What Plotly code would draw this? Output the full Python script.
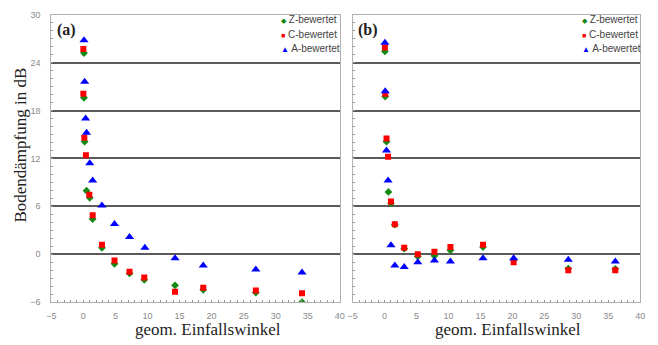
import plotly.graph_objects as go

# ---- data: panel (a) ----
a_z_x = [0.1, 0.1, 0.2, 0.5, 1.0, 1.45, 2.9, 4.86, 7.2, 9.5, 14.3, 18.7, 26.9, 34.1]
a_z_y = [25.2, 19.6, 14.1, 7.95, 7.06, 4.4, 0.8, -1.2, -2.4, -3.2, -3.9, -4.45, -4.8, -6.0]
a_c_x = [0.0, 0.0, 0.15, 0.4, 0.93, 1.45, 2.9, 4.86, 7.2, 9.5, 14.3, 18.7, 26.9, 34.1]
a_c_y = [25.7, 20.1, 14.6, 12.4, 7.46, 4.87, 1.2, -0.8, -2.2, -2.9, -4.7, -4.2, -4.55, -4.9]
a_a_x = [0.1, 0.2, 0.35, 0.5, 1.0, 1.45, 2.9, 4.86, 7.2, 9.6, 14.3, 18.7, 26.9, 34.1]
a_a_y = [26.8, 21.6, 17.0, 15.2, 11.4, 9.25, 6.1, 3.8, 2.15, 0.8, -0.5, -1.4, -1.9, -2.3]

# ---- data: panel (b) ----
b_z_x = [0.05, 0.1, 0.3, 0.6, 1.0, 1.6, 3.07, 5.2, 7.8, 10.3, 15.4, 20.2, 28.75, 36.1]
b_z_y = [25.4, 19.75, 14.1, 7.8, 6.4, 3.7, 0.7, -0.3, -0.2, 0.5, 0.9, -0.7, -1.8, -1.85]
b_c_x = [0.05, 0.1, 0.3, 0.55, 1.0, 1.6, 3.07, 5.2, 7.8, 10.3, 15.4, 20.2, 28.75, 36.1]
b_c_y = [25.9, 20.1, 14.5, 12.2, 6.6, 3.77, 0.8, 0.0, 0.3, 0.9, 1.2, -1.0, -2.0, -2.0]
b_a_x = [0.05, 0.1, 0.3, 0.55, 1.0, 1.6, 3.07, 5.2, 7.8, 10.3, 15.4, 20.2, 28.75, 36.1]
b_a_y = [26.5, 20.4, 13.0, 9.25, 1.13, -1.4, -1.6, -1.0, -0.8, -0.9, -0.5, -0.5, -0.7, -0.9]

series_names = ["Z-bewertet", "C-bewertet", "A-bewertet"]
x_ticks = [-5, 0, 5, 10, 15, 20, 25, 30, 35, 40]
y_ticks = [-6, 0, 6, 12, 18, 24, 30]
panel_labels = ["(a)", "(b)"]
y_title = "Bodendämpfung in dB"
x_title = "geom. Einfallswinkel"

GREEN = "#138a13"
RED = "#ff0000"
BLUE = "#0000ff"
styles = [
    dict(symbol="diamond", size=6, color=GREEN, glyph="◆", gsize=7),
    dict(symbol="square", size=6, color=RED, glyph="■", gsize=7),
    dict(symbol="triangle-up", size=8, color=BLUE, glyph="▲", gsize=8),
]

fig = go.Figure()
panels = [
    ([(a_z_x, a_z_y), (a_c_x, a_c_y), (a_a_x, a_a_y)], "x", "y"),
    ([(b_z_x, b_z_y), (b_c_x, b_c_y), (b_a_x, b_a_y)], "x2", "y2"),
]
for data, xa, ya in panels:
    for (xs, ys), name, st in zip(data, series_names, styles):
        fig.add_trace(go.Scatter(
            x=xs, y=ys, mode="markers", name=name, xaxis=xa, yaxis=ya, showlegend=False,
            marker=dict(symbol=st["symbol"], size=st["size"], color=st["color"], line=dict(width=0)),
        ))

W, H = 658, 345
ydom = [(H - 306) / H, (H - 10) / H]
xdom1 = [47 / W, 340 / W]
xdom2 = [353 / W, 645 / W]

tickfont = dict(family="Arial, Liberation Sans", size=9, color="#8a8a8a")
common_x = dict(range=[-5, 40], tickvals=x_ticks, ticks="inside", ticklen=2, tickcolor="#999",
                showline=True, linecolor="#b0b0b0", linewidth=1, mirror=True, showgrid=False,
                zeroline=False, tickfont=tickfont, ticklabelstandoff=5,
                minor=dict(dtick=1, ticks="inside", ticklen=2, tickcolor="#999", showgrid=False))
common_y = dict(range=[-6, 30], tickvals=y_ticks, ticks="inside", ticklen=2, tickcolor="#999",
                showline=True, linecolor="#b0b0b0", linewidth=1, mirror=True, showgrid=True,
                gridcolor="#5a5a5a", gridwidth=2, zeroline=False, tickfont=tickfont,
                minor=dict(dtick=1, ticks="inside", ticklen=2, tickcolor="#999", showgrid=False))

fig.update_layout(
    width=W, height=H, margin=dict(l=0, r=0, t=0, b=0),
    paper_bgcolor="white", plot_bgcolor="white", showlegend=False,
    xaxis=dict(domain=xdom1, anchor="y", **common_x),
    yaxis=dict(domain=ydom, anchor="x", ticklabelstandoff=8, **common_y),
    xaxis2=dict(domain=xdom2, anchor="y2", **common_x),
    yaxis2=dict(domain=ydom, anchor="x2", showticklabels=False, **common_y),
)

serif = "Liberation Serif, Times New Roman, serif"
sans = "Arial, Liberation Sans, sans-serif"

# panel labels
for lab, xr, yr in zip(panel_labels, ["x", "x2"], ["y", "y2"]):
    fig.add_annotation(text="<b>" + lab + "</b>", x=-2.6, y=28.1, xref=xr, yref=yr, showarrow=False,
                       xanchor="center", yanchor="middle",
                       font=dict(family=serif, size=16, color="#222"))

# legends as text
legend_left = [278 / W, 584 / W]
legend_rows = [(H - 15) / H, (H - 30) / H, (H - 45) / H]
for lx in legend_left:
    for st, name, ly in zip(styles, series_names, legend_rows):
        fig.add_annotation(
            text=f"<span style='color:{st['color']};font-size:{st['gsize']}px'>{st['glyph']}</span> {name}",
            x=lx, y=ly, xref="paper", yref="paper", xanchor="left", yanchor="middle",
            showarrow=False, font=dict(family=sans, size=10, color="#444"))

# axis titles
for xc in [206 / W, 511 / W]:
    fig.add_annotation(text=x_title, x=xc, y=(H - 334) / H, xref="paper", yref="paper",
                       xanchor="center", yanchor="middle",
                       showarrow=False, font=dict(family=serif, size=17, color="#222"))
fig.add_annotation(text=y_title, x=16 / W, y=(H - 144) / H, xref="paper", yref="paper",
                   xanchor="center", yanchor="middle",
                   textangle=-90, showarrow=False, font=dict(family=serif, size=17, color="#222"))

fig.write_html("out.html")
